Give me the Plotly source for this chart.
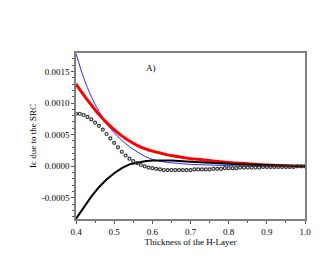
import plotly.graph_objects as go

# Data
red_x = [0.40, 0.42, 0.44, 0.46, 0.48, 0.50, 0.52, 0.54, 0.56, 0.58, 0.60, 0.62, 0.64, 0.66,
         0.68, 0.70, 0.72, 0.75, 0.80, 0.85, 0.90, 0.95, 1.00]
red_y = [0.00130, 0.00113, 0.00097, 0.00082, 0.00069, 0.00058, 0.00048, 0.00040, 0.00033,
         0.00028, 0.00024, 0.00021, 0.00018, 0.00016, 0.00014, 0.00012, 0.00011, 0.00009,
         0.00006, 0.00004, 0.00002, 0.00001, 0.0]

blue_x = [0.40, 0.42, 0.44, 0.46, 0.48, 0.50, 0.52, 0.54, 0.56, 0.58, 0.60, 0.62, 0.64, 0.66,
          0.70, 0.75, 0.80, 0.85, 0.90, 0.95, 1.00]
blue_y = [0.00178, 0.00140, 0.00110, 0.00087, 0.00068, 0.00053, 0.00041, 0.00031, 0.00023,
          0.00016, 0.00011, 0.00008, 0.00006, 0.00005, 0.00003, 0.00002, 0.00001,
          0.000005, 0.0, 0.0, 0.0]

solid_x = [0.40, 0.42, 0.44, 0.46, 0.48, 0.50, 0.52, 0.54, 0.56, 0.58, 0.60, 0.62, 0.65,
           0.70, 0.75, 0.80, 0.85, 0.90, 0.95, 1.00]
solid_y = [-0.00083, -0.00065, -0.00048, -0.00033, -0.00021, -0.00011, -0.00003, 0.00003,
           0.00006, 0.00008, 0.00009, 0.00009, 0.00009, 0.00007, 0.00005, 0.00004, 0.00003,
           0.00002, 0.00001, 0.0]

dot_x = [round(0.40 + 0.01 * i, 2) for i in range(61)]
dot_y = [0.00083, 0.00083, 0.00081, 0.00078, 0.00074, 0.00069, 0.00064, 0.00058, 0.00051,
         0.00044, 0.00037, 0.00030, 0.00023, 0.00017, 0.00012, 0.00008, 0.00005, 0.00002,
         0.0, -0.00002, -0.00003, -0.00004, -0.00005, -0.00006, -0.00006, -0.00006,
         -0.00006, -0.00006, -0.00006, -0.00006, -0.00006, -0.00005, -0.00005, -0.00005,
         -0.00005, -0.00005, -0.00004, -0.00004, -0.00004, -0.00003, -0.00003, -0.00003,
         -0.00003, -0.00002, -0.00002, -0.00002, -0.00002, -0.00002, -0.00002, -0.00001,
         -0.00001, -0.00001, -0.00001, -0.00001, -0.00001, -0.00001, -0.00001, -0.00001,
         0.0, 0.0, 0.0]

x_ticks = [0.4, 0.5, 0.6, 0.7, 0.8, 0.9, 1.0]
x_labels = ["0.4", "0.5", "0.6", "0.7", "0.8", "0.9", "1.0"]
y_ticks = [-0.0005, 0.0, 0.0005, 0.0010, 0.0015]
y_labels = ["-0.0005", "0.0000", "0.0005", "0.0010", "0.0015"]

font = "Liberation Serif, Times New Roman, serif"

fig = go.Figure()
fig.add_trace(go.Scatter(x=blue_x, y=blue_y, mode="lines", line=dict(color="#2a2aff", width=1), line_shape="spline"))
fig.add_trace(go.Scatter(x=red_x, y=red_y, mode="lines", line=dict(color="#ff0000", width=3), line_shape="spline"))
fig.add_trace(go.Scatter(x=solid_x, y=solid_y, mode="lines", line=dict(color="black", width=2)))
fig.add_trace(go.Scatter(x=dot_x, y=dot_y, mode="markers",
                         marker=dict(symbol="circle-open", size=3, color="#333333", line=dict(width=1.2))))

fig.add_annotation(x=0.597, y=0.00155, text="A)", showarrow=False,
                   font=dict(family=font, size=9, color="black"))

axis_common = dict(showgrid=False, zeroline=False, showline=True, linecolor="#808080",
                   linewidth=1.5, mirror=True, ticks="outside", ticklen=3, tickcolor="#555",
                   tickfont=dict(family=font, size=9, color="black"))

fig.update_xaxes(range=[0.4, 1.0], tickvals=x_ticks, ticktext=x_labels,
                 title=dict(text="Thickness of the H-Layer", font=dict(family=font, size=9, color="black"), standoff=2),
                 minor=dict(dtick=0.05, ticks="outside", ticklen=2, tickcolor="#555"),
                 **axis_common)
fig.update_yaxes(range=[-0.000833, 0.00179], tickvals=y_ticks, ticktext=y_labels,
                 title=dict(text="Ic due to the SRC", font=dict(family=font, size=9, color="black"), standoff=4),
                 minor=dict(dtick=0.0001, ticks="outside", ticklen=2, tickcolor="#555"),
                 **axis_common)

fig.update_layout(width=327, height=273, showlegend=False,
                  margin=dict(l=68, r=30, t=45, b=62),
                  plot_bgcolor="white", paper_bgcolor="white")

fig.write_html("out.html")
